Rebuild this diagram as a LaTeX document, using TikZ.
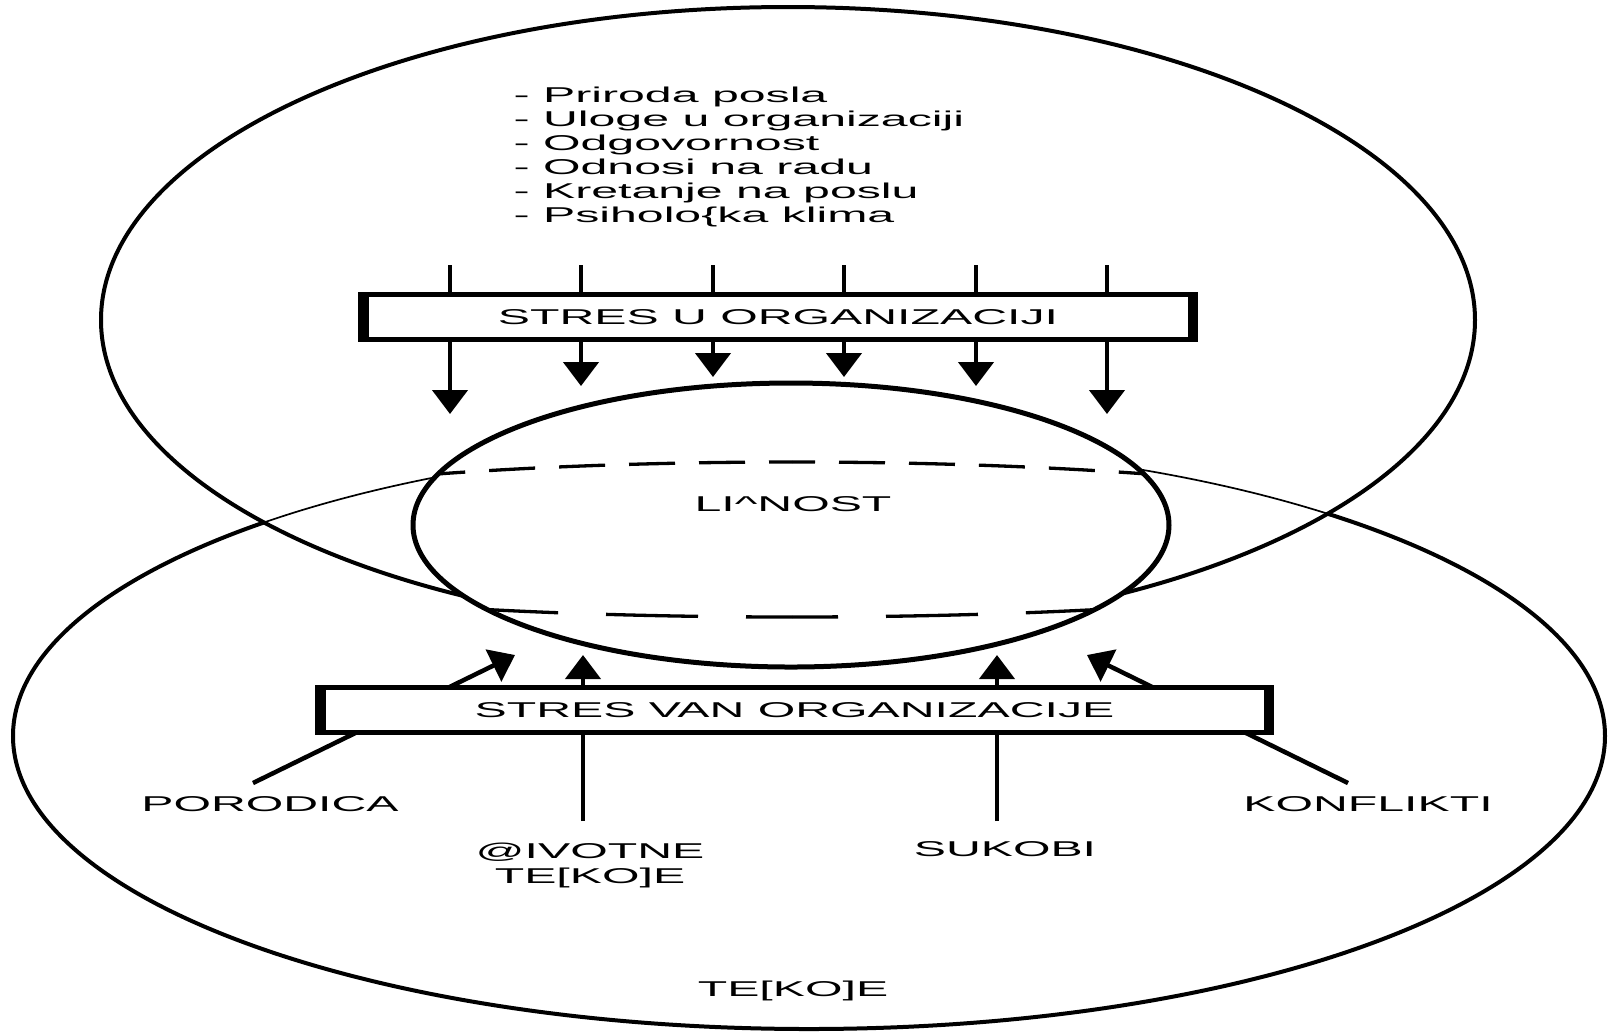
\documentclass[tikz,border=0pt]{standalone}
\usepackage{fontspec}
\setmainfont{Liberation Sans}[FakeStretch=2.25]
\usetikzlibrary{arrows.meta}
\tikzset{
  ring/.style={draw=black,line width=0.4mm},
  thinring/.style={draw=black,line width=0.17mm},
  hidtop/.style={line width=0.33mm,dash pattern=on 4.6mm off 2.4mm,dash phase=2.3mm},
  hidbot/.style={line width=0.33mm,dash pattern=on 9.2mm off 4.8mm,dash phase=4.6mm},
  stressbox/.style={draw=black,fill=white,line width=0.5mm,inner sep=0pt,minimum height=4.5mm,font=\fontsize{6.1pt}{7pt}\selectfont},
  sidebar/.style={line width=1.05mm},
  arr/.style={line width=0.45mm,-{Triangle[width=3.5mm,length=2.4mm]}},
  lab/.style={inner sep=0pt,anchor=base,font=\fontsize{6.1pt}{7pt}\selectfont},
}

\begin{document}
\begin{tikzpicture}[x=0.1mm,y=-0.1mm]
\useasboundingbox (0,0) rectangle (1614,1031);
% the two big ellipses
\draw[ring] (809,736) ellipse [x radius=796, y radius=293];
\fill[white] (788,320) ellipse [x radius=687, y radius=313];
\begin{scope}
\clip (788,320) ellipse [x radius=687, y radius=313];
\draw[thinring] (809,736) ellipse [x radius=796, y radius=293];
\end{scope}
\draw[ring] (788,320) ellipse [x radius=687, y radius=313];
% licnost
\draw[ring,line width=0.5mm,fill=white] (791,525) ellipse [x radius=378, y radius=142];
\begin{scope}
\clip (791,525) ellipse [x radius=378, y radius=142];
\draw[hidtop] (792,462) arc[start angle=270,end angle=180,x radius=700,y radius=87];
\draw[hidtop] (792,462) arc[start angle=270,end angle=360,x radius=700,y radius=87];
\draw[hidbot] (792,617) arc[start angle=90,end angle=180,x radius=640,y radius=62];
\draw[hidbot] (792,617) arc[start angle=90,end angle=0,x radius=640,y radius=62];
\end{scope}
\node[lab] (licnost) at (793,511) {LI\textasciicircum NOST};

% stres u organizaciji
\foreach \x/\t [count=\i] in {450/414,581/386,713/377,844/377,976/386,1107/414}{
  \coordinate (ulaz\i) at (\x,265);
  \coordinate (izlaz\i) at (\x,\t);
  \draw[arr] (ulaz\i) -- (izlaz\i);
}
\node[stressbox,minimum width=83.5mm] (unutra) at (778,317) {STRES U ORGANIZACIJI};
\draw[sidebar] ([xshift=0.525mm]unutra.north west) -- ([xshift=0.525mm]unutra.south west);
\draw[sidebar] ([xshift=-0.525mm]unutra.north east) -- ([xshift=-0.525mm]unutra.south east);
\node[lab,anchor=north west,align=left,font=\fontsize{6.1pt}{6.83pt}\selectfont] (faktori) at (513,86)
  {- Priroda posla\\- Uloge u organizaciji\\- Odgovornost\\- Odnosi na radu\\- Kretanje na poslu\\- Psiholo\{ka klima};

% stres van organizacije
\coordinate (porA) at (253,783);  \coordinate (porB) at (515,655);
\coordinate (zivA) at (583,821);  \coordinate (zivB) at (583,655);
\coordinate (sukA) at (997,821);  \coordinate (sukB) at (997,655);
\coordinate (konA) at (1348,783); \coordinate (konB) at (1087,655);
\draw[arr] (porA) -- (porB);
\draw[arr] (zivA) -- (zivB);
\draw[arr] (sukA) -- (sukB);
\draw[arr] (konA) -- (konB);
\node[stressbox,minimum width=95.4mm] (van) at (794.5,710) {STRES VAN ORGANIZACIJE};
\draw[sidebar] ([xshift=0.525mm]van.north west) -- ([xshift=0.525mm]van.south west);
\draw[sidebar] ([xshift=-0.525mm]van.north east) -- ([xshift=-0.525mm]van.south east);

\node[lab] (porodica) at (270,811) {PORODICA};
\node[lab] (konflikti) at (1368,811) {KONFLIKTI};
\node[lab,anchor=north,align=center,font=\fontsize{6.1pt}{7.1pt}\selectfont] (zivotne) at (590,842) {@IVOTNE\\TE[KO]E};
\node[lab] (sukobi) at (1005,856) {SUKOBI};
\node[lab] (teskoce) at (793,996) {TE[KO]E};
\end{tikzpicture}
\end{document}
